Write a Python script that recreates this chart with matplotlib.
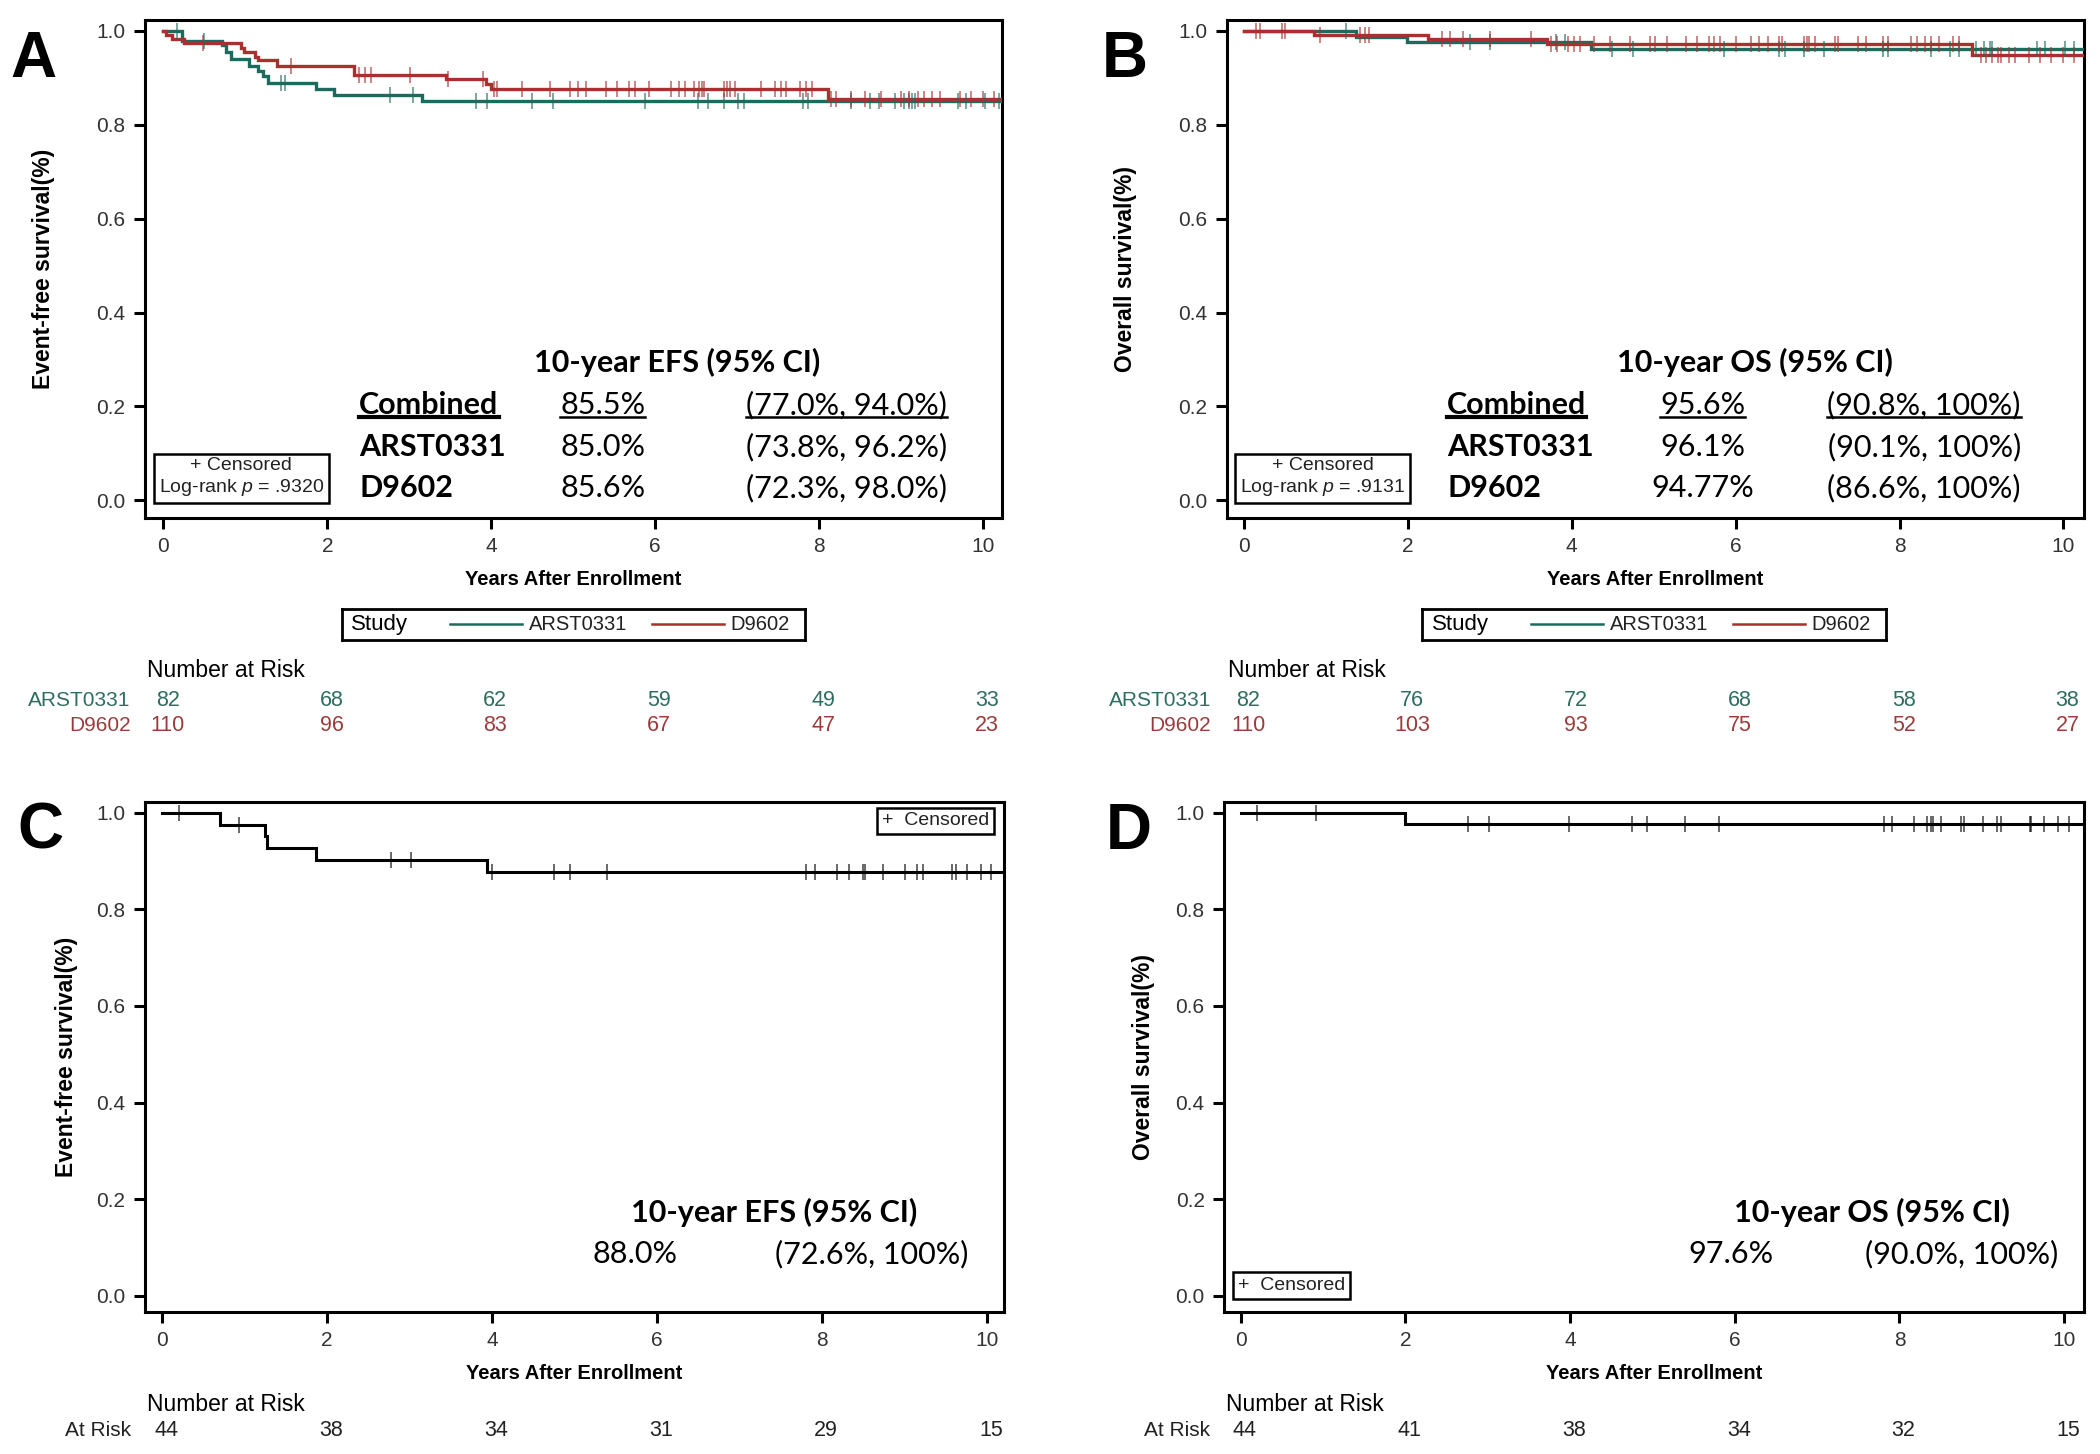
import numpy as np
import matplotlib
matplotlib.use("Agg")
import matplotlib.pyplot as plt
from matplotlib.lines import Line2D

plt.rcParams['font.family'] = ['Liberation Sans', 'DejaVu Sans']
plt.rcParams['mathtext.fontset'] = 'custom'
plt.rcParams['mathtext.it'] = 'Liberation Sans:italic'
plt.rcParams['mathtext.rm'] = 'Liberation Sans'

TEAL = '#1d6b5d'
RED = '#a8302f'
TEAL_T = '#2f6d60'
RED_T = '#9a3c3c'

# ---------------- data ----------------
# Panel A (EFS by study)
a_arst_t = [0.23, 0.71, 0.76, 0.82, 1.04, 1.15, 1.22, 1.28, 1.86, 2.08, 3.16]
a_arst_s = [0.978, 0.969, 0.955, 0.940, 0.926, 0.915, 0.903, 0.888, 0.877, 0.863, 0.850]
a_d96_t = [0.03, 0.10, 0.25, 0.95, 0.98, 1.12, 1.15, 1.38, 2.32, 3.45, 3.93, 4.00, 8.11]
a_d96_s = [0.991, 0.982, 0.974, 0.964, 0.956, 0.944, 0.937, 0.926, 0.906, 0.897, 0.886, 0.876, 0.856]
a_arst_c = [0.16, 0.50, 1.43, 1.48, 2.76, 3.04, 3.81, 3.95, 4.50, 4.75, 5.87, 6.52, 6.64, 6.84,
            7.01, 7.08, 7.80, 7.87, 8.39, 8.62, 8.73, 8.93, 9.04, 9.10, 9.14, 9.17, 9.69, 9.79,
            10.03, 10.20]
a_d96_c = [0.48, 1.55, 2.39, 2.46, 2.53, 3.01, 3.47, 3.90, 4.03, 4.07, 4.38, 4.72, 4.96, 5.06,
           5.16, 5.40, 5.54, 5.68, 5.75, 5.92, 6.19, 6.29, 6.36, 6.47, 6.53, 6.57, 6.60, 6.84,
           6.88, 6.91, 6.98, 7.29, 7.46, 7.53, 7.60, 7.77, 7.84, 7.91, 8.15, 8.21, 8.39, 8.56,
           8.76, 9.00, 9.10, 9.21, 9.28, 9.38, 9.48, 9.72, 9.86, 10.00, 10.13]

# Panel B (OS by study)
b_arst_t = [1.37, 1.99, 4.23]
b_arst_s = [0.988, 0.976, 0.962]
b_d96_t = [0.86, 2.25, 3.70, 8.88]
b_d96_s = [0.991, 0.982, 0.973, 0.948]
b_arst_c = [1.25, 2.76, 3.00, 3.81, 3.92, 4.49, 4.75, 5.86, 6.53, 6.60, 6.84, 7.08, 7.80, 7.86,
            8.38, 8.62, 8.72, 8.93, 9.03, 9.10, 9.13, 9.68, 9.78, 10.02, 10.13]
b_d96_c = [0.15, 0.20, 0.46, 0.50, 0.93, 1.42, 1.48, 1.53, 2.42, 2.52, 2.67, 3.00, 3.50, 3.75,
           3.82, 3.96, 4.03, 4.10, 4.27, 4.47, 4.71, 4.95, 5.02, 5.16, 5.40, 5.53, 5.67, 5.74,
           5.81, 6.01, 6.19, 6.29, 6.39, 6.53, 6.56, 6.84, 6.87, 6.90, 6.97, 7.21, 7.25, 7.49,
           7.59, 7.80, 7.86, 8.14, 8.21, 8.31, 8.38, 8.48, 8.65, 8.72, 9.00, 9.06, 9.13, 9.20,
           9.24, 9.34, 9.41, 9.58, 9.72, 9.85, 9.99, 10.13]

# Panel C (EFS single)
c_t = [0.70, 1.25, 1.27, 1.87, 3.94]
c_s = [0.975, 0.952, 0.928, 0.903, 0.878]
c_c = [0.21, 0.93, 2.78, 3.02, 4.00, 4.75, 4.95, 5.39, 7.81, 7.91, 8.18, 8.33, 8.49, 8.52,
       8.74, 9.00, 9.15, 9.22, 9.58, 9.62, 9.75, 9.92, 10.05]

# Panel D (OS single)
d_t = [2.00]
d_s = [0.976]
d_c = [0.20, 0.92, 2.76, 3.02, 3.99, 4.75, 4.94, 5.40, 5.81, 7.81, 7.91, 8.18, 8.34, 8.38,
       8.41, 8.51, 8.75, 8.78, 9.02, 9.18, 9.23, 9.58, 9.60, 9.75, 9.92, 10.06]

risk_times = [0, 2, 4, 6, 8, 10]
a_risk_arst = [82, 68, 62, 59, 49, 33]
a_risk_d96 = [110, 96, 83, 67, 47, 23]
b_risk_arst = [82, 76, 72, 68, 58, 38]
b_risk_d96 = [110, 103, 93, 75, 52, 27]
c_risk = [44, 38, 34, 31, 29, 15]
d_risk = [44, 41, 38, 34, 32, 15]

a_table = [("Combined", "85.5%", "(77.0%, 94.0%)"),
           ("ARST0331", "85.0%", "(73.8%, 96.2%)"),
           ("D9602", "85.6%", "(72.3%, 98.0%)")]
b_table = [("Combined", "95.6%", "(90.8%, 100%)"),
           ("ARST0331", "96.1%", "(90.1%, 100%)"),
           ("D9602", "94.77%", "(86.6%, 100%)")]

t_end = 10.23

fig = plt.figure(figsize=(21, 14.54), dpi=100)

W, H = 1568.0, 1084.0
def rect(l, r, t, b):
    return [l / W, 1 - b / H, (r - l) / W, (b - t) / H]

axA = fig.add_axes(rect(108, 748, 15, 386))
axB = fig.add_axes(rect(916, 1556, 15, 386))
axC = fig.add_axes(rect(108, 750, 598, 978))
axD = fig.add_axes(rect(914, 1556, 598, 978))

TXT_FONT = ['Lato', 'DejaVu Sans']

def surv_at(times, survs, x):
    s = 1.0
    for t, v in zip(times, survs):
        if x >= t:
            s = v
    return s

def km(ax, times, survs, cens, color, lw=2.4):
    xs = [0.0] + list(times) + [t_end]
    ys = [1.0] + list(survs) + [survs[-1]]
    ax.step(xs, ys, where='post', color=color, lw=lw, solid_joinstyle='miter', zorder=3)
    cy = [surv_at(times, survs, c) for c in cens]
    ax.plot(cens, cy, ls='none', marker='|', ms=11, mew=1.1, color=color, alpha=0.75, zorder=4)

def style(ax, xlim, ylim, ylabel):
    ax.set_xlim(*xlim)
    ax.set_ylim(*ylim)
    ax.set_xticks(risk_times)
    ax.set_yticks([0.0, 0.2, 0.4, 0.6, 0.8, 1.0])
    ax.set_yticklabels(['0.0', '0.2', '0.4', '0.6', '0.8', '1.0'])
    for s in ax.spines.values():
        s.set_linewidth(2.2)
    ax.tick_params(direction='out', length=8, width=2.2, labelsize=15, labelcolor='#333333', pad=6)
    ax.set_xlabel('Years After Enrollment', fontsize=14.5, fontweight='bold', labelpad=10)
    ax.set_ylabel(ylabel, fontsize=16.5, fontweight='bold', labelpad=14)

km(axA, a_arst_t, a_arst_s, a_arst_c, TEAL)
km(axA, a_d96_t, a_d96_s, a_d96_c, RED)
km(axB, b_arst_t, b_arst_s, b_arst_c, TEAL)
km(axB, b_d96_t, b_d96_s, b_d96_c, RED)
km(axC, c_t, c_s, c_c, 'black', lw=2.2)
km(axD, d_t, d_s, d_c, 'black', lw=2.2)

style(axA, (-0.23, 10.23), (-0.037, 1.023), 'Event-free survival(%)')
style(axB, (-0.21, 10.25), (-0.037, 1.023), 'Overall survival(%)')
style(axC, (-0.21, 10.21), (-0.033, 1.022), 'Event-free survival(%)')
style(axD, (-0.20, 10.24), (-0.033, 1.022), 'Overall survival(%)')
axA.yaxis.set_label_coords(-0.105, 0.5)
axB.yaxis.set_label_coords(-0.105, 0.5)
axC.yaxis.set_label_coords(-0.078, 0.5)
axD.yaxis.set_label_coords(-0.080, 0.5)

# panel letters
for lab, x, y in [('A', 25, 45), ('B', 840, 45), ('C', 30, 620), ('D', 843, 620)]:
    fig.text(x / W, 1 - y / H, lab, fontsize=46, fontweight='bold', ha='center', va='center')

# inset tables for A and B
underlines = []
def table(ax, title, rows, title_x, xs):
    ax.text(title_x, 0.294, title, fontsize=22, fontweight='bold', ha='center', va='center',
            family=TXT_FONT)
    ys = [0.203, 0.114, 0.026]
    for i, (name, pct, ci) in enumerate(rows):
        t1 = ax.text(xs[0], ys[i], name, fontsize=22, fontweight='bold', ha='left', va='center',
                     family=TXT_FONT)
        t2 = ax.text(xs[1], ys[i], pct, fontsize=22, ha='center', va='center', family=TXT_FONT)
        t3 = ax.text(xs[2], ys[i], ci, fontsize=22, ha='center', va='center', family=TXT_FONT)
        if i == 0:
            underlines.extend([(t1, 3.0), (t2, 1.8), (t3, 1.8)])

table(axA, '10-year EFS (95% CI)', a_table, 6.27, [2.39, 5.36, 8.33])
table(axB, '10-year OS (95% CI)', b_table, 6.24, [2.48, 5.60, 8.30])

axC.text(7.42, 0.172, '10-year EFS (95% CI)', fontsize=22, fontweight='bold', ha='center',
         va='center', family=TXT_FONT)
axC.text(5.73, 0.086, '88.0%', fontsize=22, ha='center', va='center', family=TXT_FONT)
axC.text(8.60, 0.086, '(72.6%, 100%)', fontsize=22, ha='center', va='center', family=TXT_FONT)
axD.text(7.66, 0.172, '10-year OS (95% CI)', fontsize=22, fontweight='bold', ha='center',
         va='center', family=TXT_FONT)
axD.text(5.95, 0.086, '97.6%', fontsize=22, ha='center', va='center', family=TXT_FONT)
axD.text(8.76, 0.086, '(90.0%, 100%)', fontsize=22, ha='center', va='center', family=TXT_FONT)

# censored / log-rank boxes
box = dict(boxstyle='square,pad=0.25', fc='white', ec='black', lw=1.8)
axA.text(0.95, 0.049, '+ Censored\nLog-rank $p$ = .9320', fontsize=14, ha='center',
         va='center', multialignment='center', bbox=box, linespacing=1.2, color='#222222')
axB.text(0.96, 0.049, '+ Censored\nLog-rank $p$ = .9131', fontsize=14, ha='center',
         va='center', multialignment='center', bbox=box, linespacing=1.2, color='#222222')
axC.text(9.38, 0.983, '+  Censored', fontsize=14, ha='center', va='center', bbox=box,
         color='#222222')
axD.text(0.62, 0.022, '+  Censored', fontsize=14, ha='center', va='center', bbox=box,
         color='#222222')

# Study legends
def study_legend(l, r, t, b):
    lax = fig.add_axes(rect(l, r, t, b))
    lax.set_xlim(0, 1)
    lax.set_ylim(0, 1)
    lax.set_xticks([])
    lax.set_yticks([])
    for s in lax.spines.values():
        s.set_linewidth(2.0)
    lax.text(0.02, 0.5, 'Study', fontsize=16, ha='left', va='center')
    lax.add_line(Line2D([0.235, 0.39], [0.5, 0.5], color=TEAL, lw=1.8))
    lax.text(0.405, 0.5, 'ARST0331', fontsize=14.5, ha='left', va='center', color='#222222')
    lax.add_line(Line2D([0.67, 0.825], [0.5, 0.5], color=RED, lw=1.8))
    lax.text(0.84, 0.5, 'D9602', fontsize=14.5, ha='left', va='center', color='#222222')

study_legend(255, 601, 454, 477)
study_legend(1062, 1408, 454, 477)

# number at risk tables
def risk(ax, rows, y_head, y_rows, lab_x, head_x):
    tr = ax.get_xaxis_transform()
    ax.text(head_x, y_head, 'Number at Risk', fontsize=16.5, ha='left', va='center', transform=tr,
            clip_on=False)
    for (lab, vals, col), y in zip(rows, y_rows):
        ax.text(lab_x, y, lab, fontsize=15, ha='right', va='center', color=col, transform=tr,
                clip_on=False)
        for t, v in zip(risk_times, vals):
            ax.text(t + 0.05, y, str(v), fontsize=15.5, ha='center', va='center', color=col,
                    transform=tr, clip_on=False)

risk(axA, [('ARST0331', a_risk_arst, TEAL_T), ('D9602', a_risk_d96, RED_T)],
     -0.307, [-0.367, -0.418], -0.40, -0.20)
risk(axB, [('ARST0331', b_risk_arst, TEAL_T), ('D9602', b_risk_d96, RED_T)],
     -0.307, [-0.367, -0.418], -0.40, -0.20)
risk(axC, [('At Risk', c_risk, '#222222')], -0.182, [-0.232], -0.37, -0.18)
risk(axD, [('At Risk', d_risk, '#222222')], -0.182, [-0.232], -0.37, -0.18)

# underline the "Combined" row
fig.canvas.draw()
inv = fig.transFigure.inverted()
for t, lw in underlines:
    bb = t.get_window_extent()
    (x0, y0), (x1, y1) = inv.transform([(bb.x0, bb.y0 + 2), (bb.x1, bb.y0 + 2)])
    fig.add_artist(Line2D([x0, x1], [y0, y1], color='black', lw=lw, transform=fig.transFigure))

fig.savefig('out.png', dpi=100)
